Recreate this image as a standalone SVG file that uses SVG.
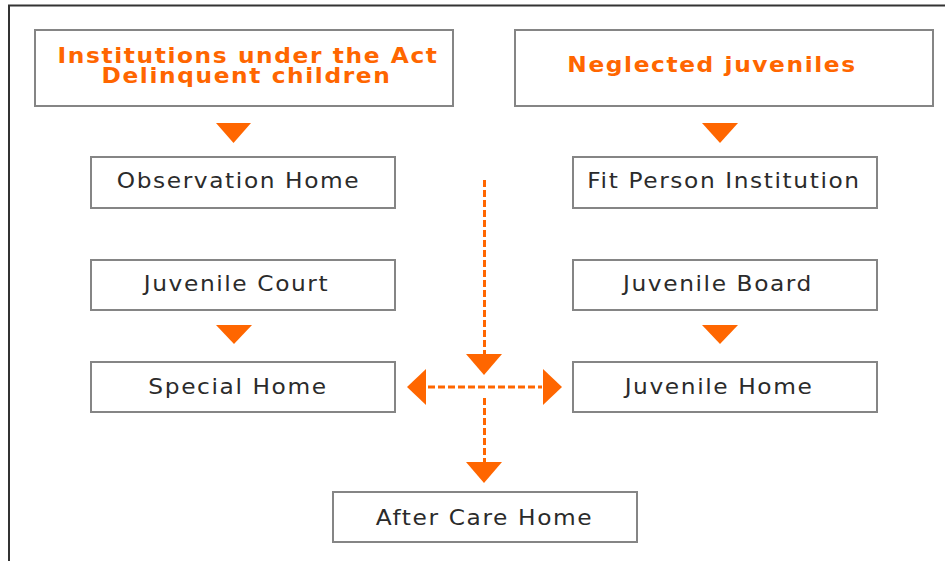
<svg xmlns="http://www.w3.org/2000/svg" width="945" height="561" viewBox="0 0 945 561">
<style>
.box{fill:#fff;stroke:#858585;stroke-width:2}
.t{font-family:"DejaVu Sans",Verdana,sans-serif;font-size:22px;fill:#2b2b2b;text-anchor:middle;letter-spacing:1.5px}
.h{font-family:"DejaVu Sans",Verdana,sans-serif;font-size:22px;font-weight:bold;fill:#FF6600;text-anchor:middle;letter-spacing:1.5px}
.tri{fill:#FF6600}
.dash{stroke:#FF6600;stroke-width:3;stroke-dasharray:7 3;fill:none}
</style>
<rect x="0" y="0" width="945" height="561" fill="#fff"/>
<path d="M9 561 V5.5 H945" fill="none" stroke="#333" stroke-width="2"/>
<g id="institutions">
<rect class="box" x="35" y="30" width="418" height="76"/>
<text class="h" transform="scale(1.06,1)"><tspan x="234" y="63">Institutions under the Act</tspan><tspan x="232.5" y="83.5">Delinquent children</tspan></text>
</g>
<g id="neglected">
<rect class="box" x="515" y="30" width="418" height="76"/>
<text class="h" transform="translate(712,72) scale(1.06,1)">Neglected juveniles</text>
</g>
<g id="observation">
<rect class="box" x="91" y="157" width="304" height="51"/>
<text class="t" transform="translate(238.5,188) scale(1.06,1)">Observation Home</text>
</g>
<g id="fitperson">
<rect class="box" x="573" y="157" width="304" height="51"/>
<text class="t" transform="translate(724,188) scale(1.06,1)">Fit Person Institution</text>
</g>
<g id="court">
<rect class="box" x="91" y="260" width="304" height="50"/>
<text class="t" transform="translate(236.5,291) scale(1.06,1)">Juvenile Court</text>
</g>
<g id="board">
<rect class="box" x="573" y="260" width="304" height="50"/>
<text class="t" transform="translate(718,291) scale(1.06,1)">Juvenile Board</text>
</g>
<g id="special">
<rect class="box" x="91" y="362" width="304" height="50"/>
<text class="t" transform="translate(238,394) scale(1.06,1)">Special Home</text>
</g>
<g id="juvhome">
<rect class="box" x="573" y="362" width="304" height="50"/>
<text class="t" transform="translate(719,394) scale(1.06,1)">Juvenile Home</text>
</g>
<g id="aftercare">
<rect class="box" x="333" y="492" width="304" height="50"/>
<text class="t" transform="translate(484.5,525) scale(1.06,1)">After Care Home</text>
</g>
<g id="connectors">
<polygon class="tri" points="216,123 251,123 233.5,143"/>
<polygon class="tri" points="702,123 738,123 720,143"/>
<polygon class="tri" points="216,325 252,325 234,344"/>
<polygon class="tri" points="702,325 738,325 720,344"/>
<line class="dash" x1="484.5" y1="180" x2="484.5" y2="354"/>
<polygon class="tri" points="466,354 502,354 484,375"/>
<line class="dash" x1="428" y1="387" x2="542" y2="387"/>
<polygon class="tri" points="407,387 426,369 426,405"/>
<polygon class="tri" points="562,387 543,369 543,405"/>
<line class="dash" x1="484.5" y1="398" x2="484.5" y2="462"/>
<polygon class="tri" points="466,462 502,462 484,483"/>
</g>
</svg>
